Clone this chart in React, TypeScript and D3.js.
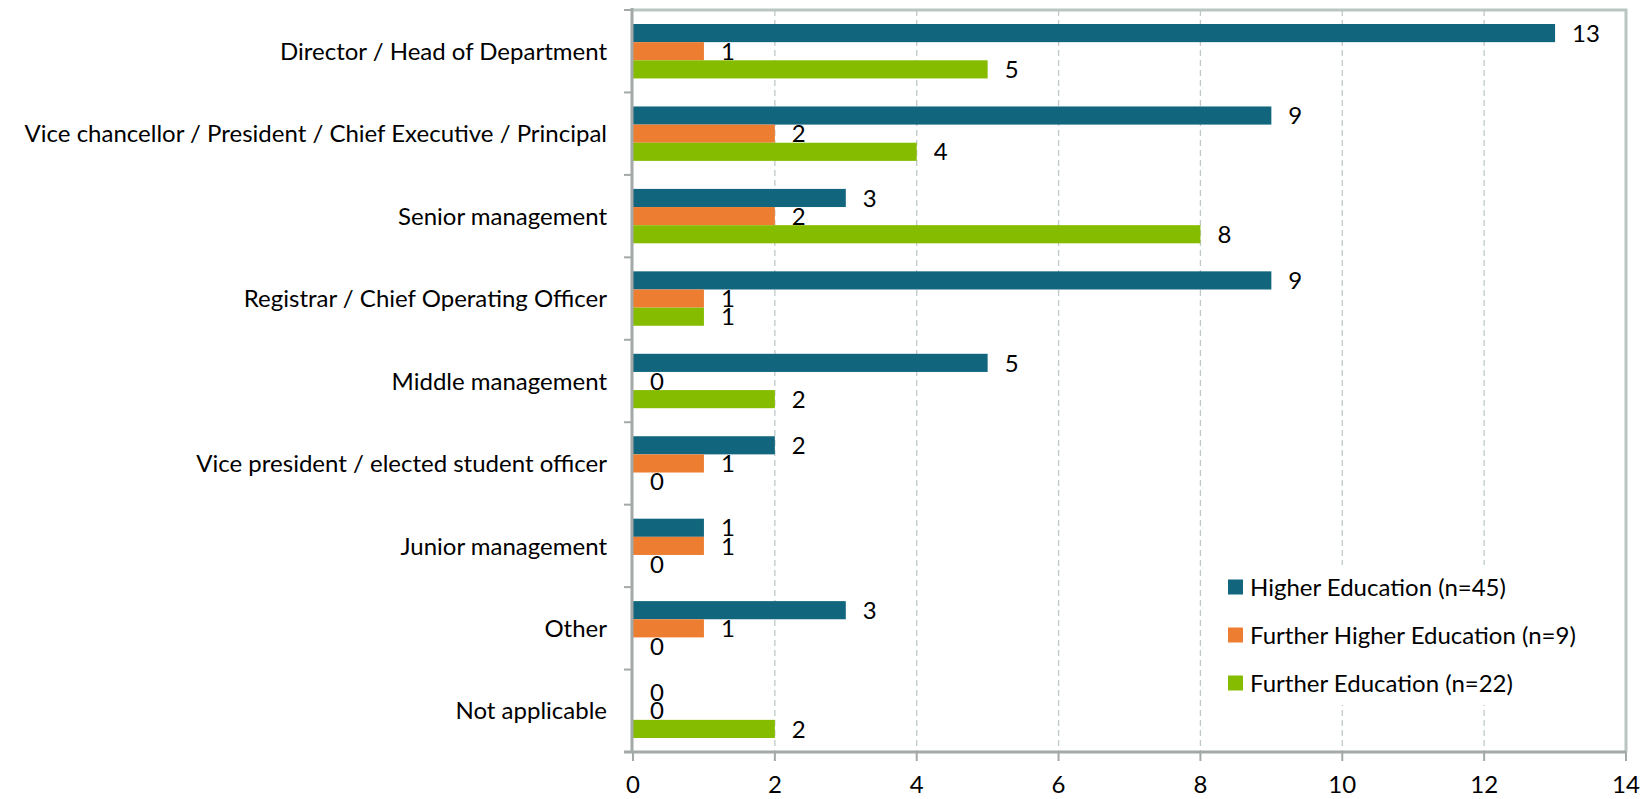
import * as d3 from "d3";

const categories = [
  "Director / Head of Department",
  "Vice chancellor / President / Chief Executive / Principal",
  "Senior management",
  "Registrar / Chief Operating Officer",
  "Middle management",
  "Vice president / elected student officer",
  "Junior management",
  "Other",
  "Not applicable ",
];
const seriesNames = [
  "Higher Education (n=45)",
  "Further Higher Education (n=9)",
  "Further Education (n=22)",
];
const higherEd = [13, 9, 3, 9, 5, 2, 1, 3, 0];
const furtherHigherEd = [1, 2, 2, 1, 0, 1, 1, 1, 0];
const furtherEd = [5, 4, 8, 1, 2, 0, 0, 0, 2];
const xTicks = [0, 2, 4, 6, 8, 10, 12, 14];

const colors = ["#11657d", "#ed7d31", "#86bc00"];
const font = "Lato, 'Open Sans', sans-serif";
const fs = 24;

const W = 1646;
const H = 799;
const margin = { top: 10, right: 20, bottom: 47, left: 633 };

export default function App() {
  const series = [higherEd, furtherHigherEd, furtherEd];
  const x = d3.scaleLinear().domain([0, 14]).range([margin.left, W - margin.right]);
  const y = d3
    .scaleBand<string>()
    .domain(categories)
    .range([margin.top, H - margin.bottom])
    .paddingInner(0.34)
    .paddingOuter(0.17);
  const inner = d3
    .scaleBand<number>()
    .domain([0, 1, 2])
    .range([0, y.bandwidth()]);
  const step = y.step();
  const bottom = H - margin.bottom;

  return (
    <svg width={W} height={H} style={{ position: "absolute", left: 0, top: 0, fontFamily: font }}>
      <rect width={W} height={H} fill="#fff" />
      {/* grid */}
      {xTicks.slice(1, -1).map((t) => (
        <line key={t} x1={x(t)} x2={x(t)} y1={margin.top} y2={bottom}
          stroke="#bfc9c9" strokeWidth={1.3} strokeDasharray="6,4" />
      ))}
      {/* frame */}
      <path d={`M${x(0)},${margin.top} H${x(14)} V${bottom}`} fill="none" stroke="#b8c5c1" strokeWidth={3} />
      {/* bars */}
      {categories.map((c, ci) =>
        series.map((s, si) => {
          const v = s[ci];
          const by = (y(c) ?? 0) + (inner(si) ?? 0);
          const bh = inner.bandwidth();
          return (
            <g key={`${ci}-${si}`}>
              {v > 0 && <rect x={x(0)} y={by} width={x(v) - x(0)} height={bh} fill={colors[si]} />}
              <text x={x(v) + 17} y={by + bh / 2} dy="0.36em" fontSize={fs} fill="#000">{v}</text>
            </g>
          );
        })
      )}
      {/* legend */}
      <rect x={1215} y={565} width={385} height={140} fill="#fff" />
      {seriesNames.map((n, i) => (
        <g key={n} transform={`translate(1228,${587 + i * 48})`}>
          <rect x={0} y={-7.5} width={15} height={15} fill={colors[i]} />
          <text x={22} y={0} dy="0.36em" fontSize={fs} fill="#000">{n}</text>
        </g>
      ))}
      {/* y axis */}
      <line x1={x(0) - 1} x2={x(0) - 1} y1={margin.top - 2} y2={bottom + 1} stroke="#a3a8a8" strokeWidth={3} />
      {d3.range(categories.length + 1).map((i) => (
        <line key={i} x1={x(0) - 9} x2={x(0)} y1={margin.top + i * step} y2={margin.top + i * step}
          stroke="#a3a8a8" strokeWidth={2} />
      ))}
      {categories.map((c) => (
        <text key={c} x={607} y={(y(c) ?? 0) + y.bandwidth() / 2} dy="0.36em" textAnchor="end" fontSize={fs} fill="#000">{c}</text>
      ))}
      {/* x axis */}
      <line x1={x(0) - 9} x2={x(14)} y1={bottom} y2={bottom} stroke="#a3a8a8" strokeWidth={3} />
      {xTicks.map((t) => (
        <g key={t}>
          <line x1={x(t)} x2={x(t)} y1={bottom} y2={bottom + 9} stroke="#a3a8a8" strokeWidth={2} />
          <text x={x(t)} y={784} dy="0.36em" textAnchor="middle" fontSize={fs} fill="#000">{t}</text>
        </g>
      ))}
    </svg>
  );
}
